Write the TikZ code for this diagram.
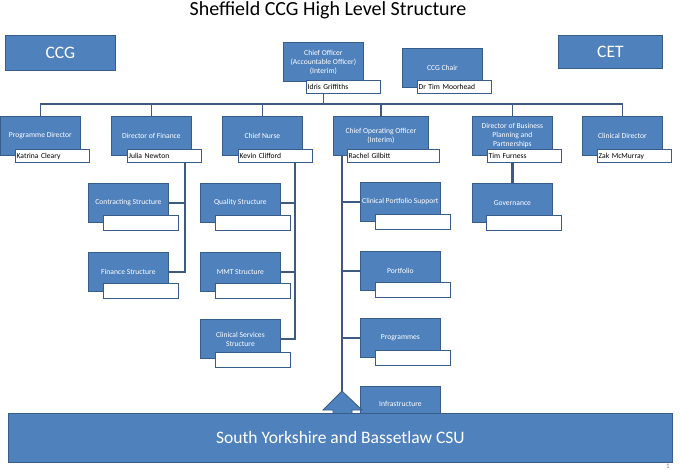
\documentclass[tikz,border=0pt]{standalone}
\usepackage{fontspec}
\setmainfont{Carlito}
\usetikzlibrary{calc}
\definecolor{postblue}{RGB}{79,129,189}
\definecolor{postedge}{RGB}{56,93,138}
\definecolor{busline}{RGB}{62,90,128}

\begin{document}
\begin{tikzpicture}[x=1pt,y=-1pt]
\tikzstyle{post}=[draw=postedge, line width=0.8pt, fill=postblue, text=white, font=\fontsize{7.6}{9}\selectfont, align=center, inner sep=1pt, anchor=north west, minimum width=80pt, minimum height=39pt]
\tikzstyle{holder}=[draw=postedge, line width=1.2pt, fill=white, text=black, font=\fontsize{7.6}{9}\selectfont, anchor=north west, inner sep=1pt, text width=72pt, minimum height=13pt, align=left]
\tikzstyle{blank}=[draw=postedge, line width=1.2pt, fill=white, anchor=north west, minimum width=75pt, minimum height=15pt]
\tikzstyle{bus}=[draw=busline, line width=2.2pt]
\tikzstyle{tick}=[draw=busline, line width=1.2pt]
\tikzstyle{big}=[font=\fontsize{17.5}{20}\selectfont]

\useasboundingbox (0,0) rectangle (680,472);

\node (title) at (328,10) {\fontsize{20}{23}\selectfont Sheffield CCG High Level Structure};

\node (ccg) [post, big, minimum width=110pt, minimum height=35pt] at (5,35) {CCG};
\node (cet) [post, big, minimum width=104pt, minimum height=33pt] at (558,35) {CET};

\node (chief) [post] at (283,42) {Chief Officer\\(Accountable Officer)\\(Interim)};
\node (chair) [post] at (402,48) {CCG Chair};

\node (prog) [post] at (0,116) {Programme Director};
\node (fin) [post] at (111,116) {Director of Finance};
\node (nurse) [post] at (222,116) {Chief Nurse};
\node (coo) [post, minimum width=95pt] at (333,116) {Chief Operating Officer\\(Interim)};
\node (busdir) [post] at (472,116) {Director of Business\\Planning and\\Partnerships};
\node (clin) [post] at (582,116) {Clinical Director};

\node (contract) [post] at (88,183) {Contracting Structure};
\node (finstr) [post] at (88,252) {Finance Structure};
\node (quality) [post] at (200,183) {Quality Structure};
\node (mmt) [post] at (200,252) {MMT Structure};
\node (clinserv) [post] at (200,319) {Clinical Services\\Structure};
\node (cps) [post] at (360,182) {Clinical Portfolio Support};
\node (portfolio) [post] at (360,251) {Portfolio};
\node (programmes) [post] at (360,318) {Programmes};
\node (infra) [post, minimum height=36pt] at (360,386) {Infrastructure};
\node (gov) [post] at (472,183) {Governance};

\coordinate (busL) at (40,104);
\coordinate (busR) at (623,104);
\draw [bus] (busL) -- (busR);
\draw [tick] (prog.north) -- (prog.north |- busL);
\draw [tick] (fin.north) -- (fin.north |- busL);
\draw [tick] (nurse.north) -- (nurse.north |- busL);
\draw [tick] (coo.north) -- (coo.north |- busL);
\draw [tick] (busdir.north) -- (busdir.north |- busL);
\draw [tick] (clin.north) -- (clin.north |- busL);
\draw [tick] (chief.south) -- (chief.south |- busL);

\draw [bus] (busdir.south) -- (gov.north);

\node (idris) [holder, xshift=23pt, yshift=-38pt] at (chief.north west) {Idris Griffiths};
\node (moorhead) [holder, xshift=15pt, yshift=-32pt] at (chair.north west) {Dr Tim Moorhead};
\node (katrina) [holder, xshift=15pt, yshift=-33pt] at (prog.north west) {Katrina Cleary};
\node (julia) [holder, xshift=16pt, yshift=-33pt] at (fin.north west) {Julia Newton};
\node (kevin) [holder, xshift=16pt, yshift=-33pt] at (nurse.north west) {Kevin Clifford};
\node (rachel) [holder, text width=90pt, xshift=14pt, yshift=-33pt] at (coo.north west) {Rachel Gilbitt};
\node (tim) [holder, xshift=15pt, yshift=-33pt] at (busdir.north west) {Tim Furness};
\node (zak) [holder, xshift=15pt, yshift=-33pt] at (clin.north west) {Zak McMurray};

\node (contractsub) [blank, xshift=15pt, yshift=-32pt] at (contract.north west) {};
\node (finstrsub) [blank, xshift=15pt, yshift=-31pt] at (finstr.north west) {};
\node (qualitysub) [blank, xshift=15pt, yshift=-32pt] at (quality.north west) {};
\node (mmtsub) [blank, xshift=15pt, yshift=-31pt] at (mmt.north west) {};
\node (clinservsub) [blank, xshift=15pt, yshift=-33pt] at (clinserv.north west) {};
\node (cpssub) [blank, xshift=15pt, yshift=-32pt] at (cps.north west) {};
\node (portfoliosub) [blank, xshift=15pt, yshift=-31pt] at (portfolio.north west) {};
\node (programmessub) [blank, xshift=15pt, yshift=-32pt] at (programmes.north west) {};
\node (govsub) [blank, xshift=14pt, yshift=-32pt] at (gov.north west) {};

\path (julia.south west) + (58,0) coordinate (finTop);
\path (kevin.south west) + (57,0) coordinate (nurseTop);
\path (coo.south west) + (9,0) coordinate (cooTop);
\coordinate (tip) at (342,391);

\draw [bus] (finTop) |- (contract.east);
\draw [bus] (finTop) |- (finstr.east);
\draw [bus] (nurseTop) |- (quality.east);
\draw [bus] (nurseTop) |- (mmt.east);
\draw [bus] (nurseTop) |- (clinserv.east);
\draw [bus] (cooTop) -- (tip);
\draw [bus] (cooTop) |- (cps.west);
\draw [bus] (cooTop) |- (portfolio.west);
\draw [bus] (cooTop) |- (programmes.west);

\filldraw [fill=postblue, draw=postedge, line width=0.8pt] ($(tip)+(-9,24)$) -- ($(tip)+(-9,19)$) -- ($(tip)+(-19,19)$) -- (tip) -- ($(tip)+(20,19)$) -- ($(tip)+(10,19)$) -- ($(tip)+(10,24)$) -- cycle;

\node (csu) [post, big, minimum width=664pt, minimum height=49pt] at (8,413) {South Yorkshire and Bassetlaw CSU};
\node (pgno) [text=gray, font=\fontsize{7}{8}\selectfont] at (668,466) {1};

\end{tikzpicture}
\end{document}
